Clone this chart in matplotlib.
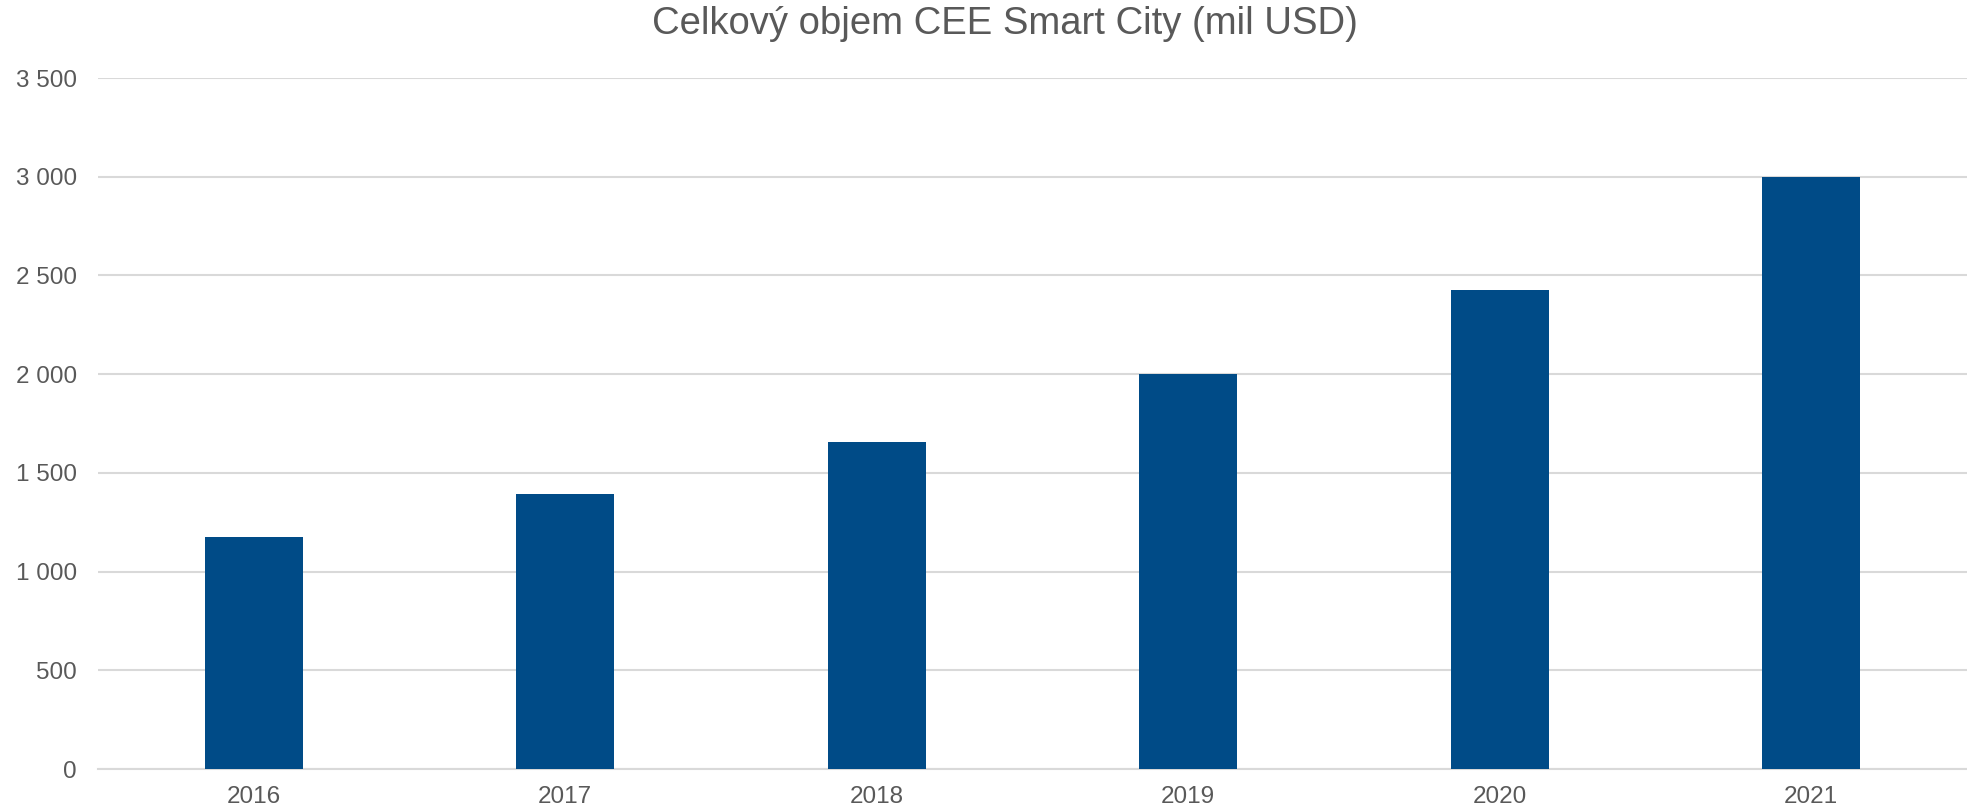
import matplotlib.pyplot as plt
from matplotlib.ticker import FuncFormatter, MultipleLocator

# data
years = ['2016', '2017', '2018', '2019', '2020', '2021']
volume = [1175, 1392, 1658, 2000, 2428, 2998]

title = 'Celkový objem CEE Smart City (mil USD)'
bar_color = '#004B87'
text_color = '#595959'
grid_color = '#D9D9D9'

plt.rcParams['font.family'] = ['Liberation Sans', 'DejaVu Sans']

fig = plt.figure(figsize=(19.67, 8.10), dpi=100)
ax = fig.add_axes([0.0498, 0.0506, 0.9502, 0.8531])

x = range(len(years))
ax.bar(x, volume, width=0.315, color=bar_color, zorder=3)

ax.set_xlim(-0.5, len(years) - 0.5)
ax.set_ylim(0, 3500)
ax.yaxis.set_major_locator(MultipleLocator(500))
ax.yaxis.set_major_formatter(FuncFormatter(lambda v, p: f'{int(v):,}'.replace(',', ' ')))
ax.set_xticks(list(x))
ax.set_xticklabels(years)

ax.grid(axis='y', color=grid_color, linewidth=1.5, zorder=0)
for side in ['top', 'right', 'left']:
    ax.spines[side].set_visible(False)
ax.spines['bottom'].set_color(grid_color)
ax.spines['bottom'].set_linewidth(1.5)
ax.tick_params(axis='both', length=0, labelsize=17.5, labelcolor=text_color)
ax.tick_params(axis='y', pad=15)
ax.tick_params(axis='x', pad=12)

fig.text(0.511, 0.97, title, ha='center', va='center', fontsize=27.5, color=text_color)

fig.savefig('out.png', dpi=100, facecolor='white')
